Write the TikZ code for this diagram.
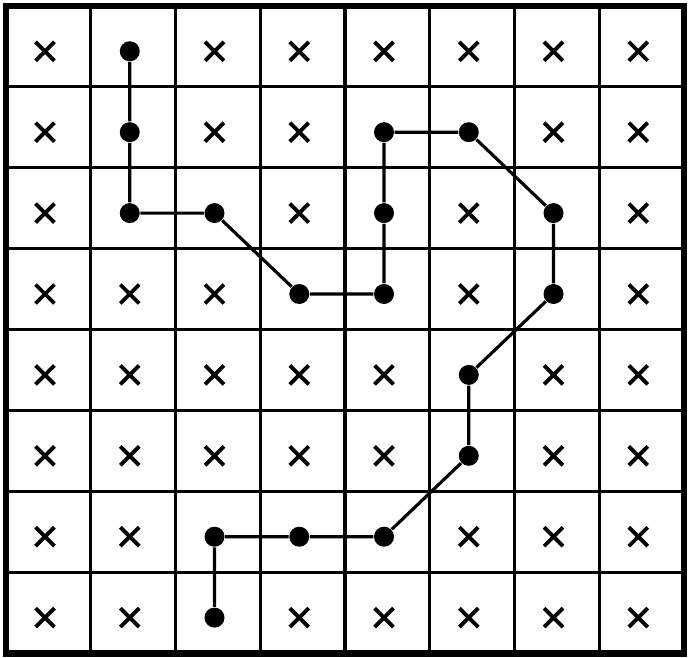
\documentclass[tikz,border=0pt]{standalone}
\usepackage{tikz}
\usetikzlibrary{shapes.misc}

\begin{document}
\begin{tikzpicture}[
  x=0.8475cm,y=-0.809cm,
  gridline/.style={line width=0.9pt},
  frame/.style={line width=1.9pt},
  crossmark/.style={cross out,draw,line width=1.1pt,minimum size=0.15cm,inner sep=0pt},
  dotnode/.style={circle,fill,inner sep=0pt,minimum size=0.2cm},
  route/.style={line width=0.9pt},
]
\useasboundingbox (-0.071,-0.074) rectangle (8.047,8.049);

% --- grid
\foreach \i in {1,...,7} {
  \draw[gridline] (\i,0) -- (\i,8);
  \draw[gridline] (0,\i) -- (8,\i);
}
\draw[frame] (0,0) rectangle (8,8);

% --- crosses (row / columns)
\foreach \r/\cols in {0/{0,2,3,4,5,6,7},1/{0,2,3,6,7},2/{0,3,5,7},3/{0,1,2,5,7},
                      4/{0,1,2,3,4,6,7},5/{0,1,2,3,4,6,7},6/{0,1,5,6,7},7/{0,1,3,4,5,6,7}}
  \foreach \c in \cols
    \node[crossmark] (x\c-\r) at (\c+0.46,\r+0.56) {};

% --- path dots
\foreach \n/\c/\r in {1/1/0,2/1/1,3/1/2,4/2/2,5/3/3,6/4/3,7/4/2,8/4/1,9/5/1,
                      10/6/2,11/6/3,12/5/4,13/5/5,14/4/6,15/3/6,16/2/6,17/2/7}
  \node[dotnode] (p\n) at (\c+0.46,\r+0.56) {};

\draw[route] (p1) -- (p2) -- (p3) -- (p4) -- (p5) -- (p6) -- (p7) -- (p8) -- (p9)
  -- (p10) -- (p11) -- (p12) -- (p13) -- (p14) -- (p15) -- (p16) -- (p17);
\end{tikzpicture}
\end{document}
